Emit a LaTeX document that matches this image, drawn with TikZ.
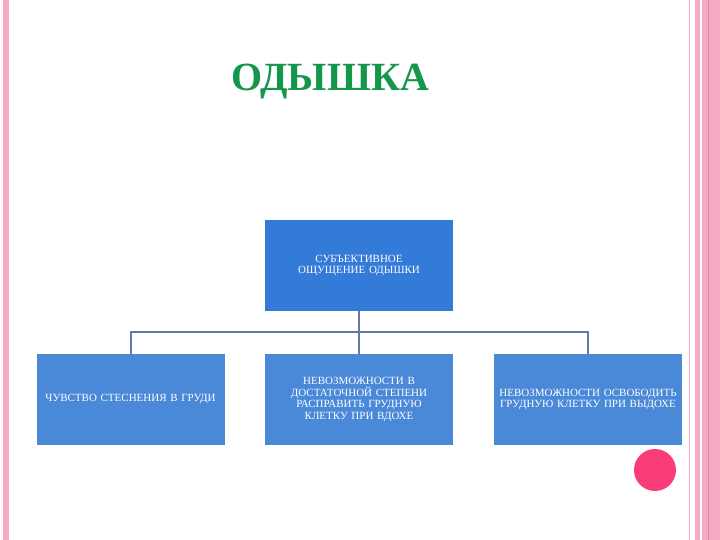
\documentclass[tikz,border=0pt]{standalone}
\usepackage{fontspec}
\setmainfont{Liberation Serif}
\definecolor{pinkb}{RGB}{246,170,196}
\definecolor{pinkd}{RGB}{236,130,170}
\definecolor{boxa}{RGB}{52,122,216}
\definecolor{boxb}{RGB}{74,136,216}
\definecolor{conn}{RGB}{100,120,170}
\definecolor{titleg}{RGB}{20,150,75}
\definecolor{dot}{RGB}{250,60,120}
\begin{document}
\begin{tikzpicture}[x=1pt,y=-1pt,
  box/.style={fill=#1,draw=none,minimum width=188pt,minimum height=91pt,text width=186pt,align=center,text=white,font=\fontsize{11}{11.5}\selectfont,inner sep=1pt},
  conline/.style={draw=conn,line width=2pt}]
\useasboundingbox (0,0) rectangle (720,540);
\fill[white] (0,0) rectangle (720,540);
% borders
\fill[pinkb] (3,0) rectangle (9,540);
\draw[pinkb,line width=1pt] (689,0) -- (689,540);
\fill[pinkb] (695,0) rectangle (700,540);
\fill[pinkb] (702,0) rectangle (720,540);
\draw[pinkd,line width=0.8pt] (708,0) -- (708,540);
\node[font=\bfseries\fontsize{40}{40}\selectfont,text=titleg] (title) at (330,82) {ОДЫШКА};
\node[box=boxa] (top) at (359,265.5) {СУБЪЕКТИВНОЕ\\ОЩУЩЕНИЕ ОДЫШКИ};
\node[box=boxb] (l) at (130.5,399.5) {ЧУВСТВО СТЕСНЕНИЯ В ГРУДИ};
\node[box=boxb] (m) at (359,399.5) {НЕВОЗМОЖНОСТИ В ДОСТАТОЧНОЙ СТЕПЕНИ РАСПРАВИТЬ ГРУДНУЮ КЛЕТКУ ПРИ ВДОХЕ};
\node[box=boxb] (r) at (588,399.5) {НЕВОЗМОЖНОСТИ ОСВОБОДИТЬ ГРУДНУЮ КЛЕТКУ ПРИ ВЫДОХЕ};
\coordinate (j) at (359,332);
\draw[conline] (top.south) -- (m.north);
\draw[conline] (l.north) -- (l.north |- j) -- (r.north |- j) -- (r.north);
\node[circle,fill=dot,minimum size=42pt,inner sep=0pt] (c) at (655,470) {};
\end{tikzpicture}
\end{document}
